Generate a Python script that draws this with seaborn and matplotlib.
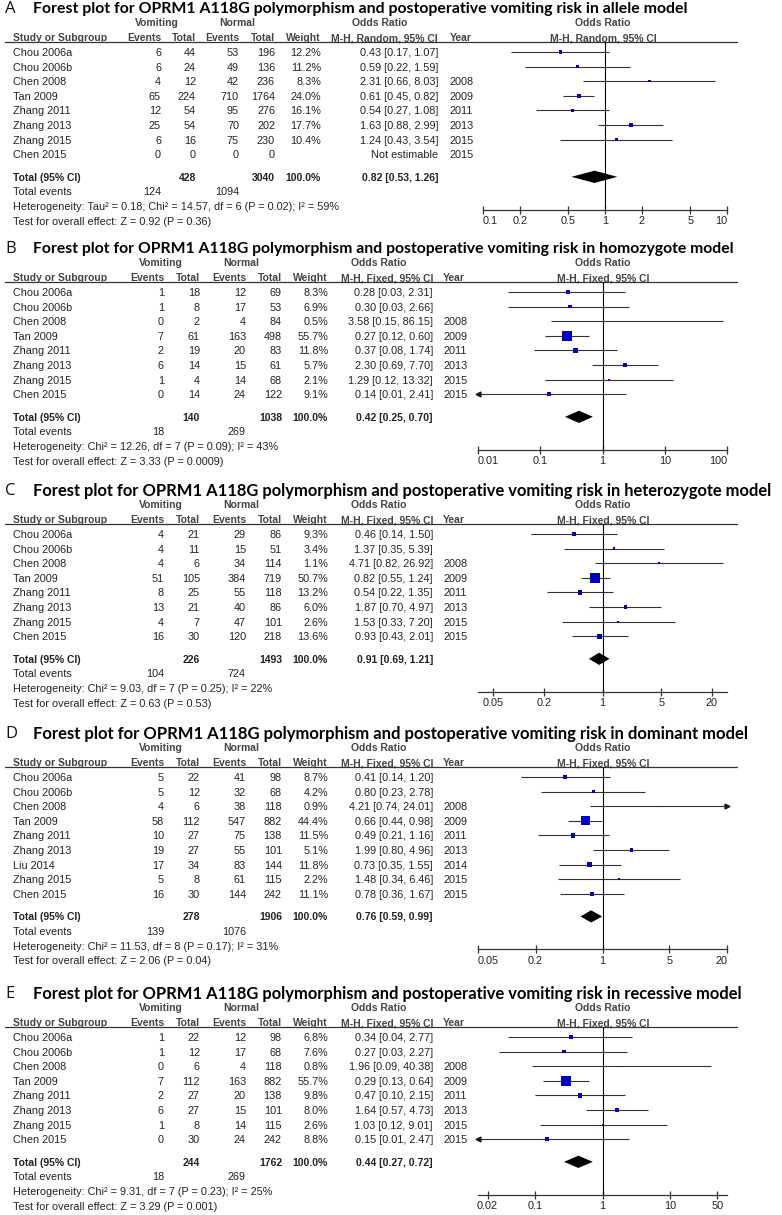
import numpy as np
import pandas as pd
import seaborn as sns
import matplotlib.pyplot as plt
from matplotlib.ticker import FixedLocator, FixedFormatter, NullLocator

sns.set_theme(style="white")
plt.rcParams['font.family'] = ['Liberation Sans', 'DejaVu Sans']

# ---------------- data ----------------
studies = ["Chou 2006a", "Chou 2006b", "Chen 2008", "Tan 2009", "Zhang 2011",
           "Zhang 2013", "Zhang 2015", "Chen 2015"]
years = ["", "", "2008", "2009", "2011", "2013", "2015", "2015"]
studies_d = ["Chou 2006a", "Chou 2006b", "Chen 2008", "Tan 2009", "Zhang 2011",
             "Zhang 2013", "Liu 2014", "Zhang 2015", "Chen 2015"]
years_d = ["", "", "2008", "2009", "2011", "2013", "2014", "2015", "2015"]

# A: allele model (random)
a_vom_ev = [6, 6, 4, 65, 12, 25, 6, 0]
a_vom_tot = [44, 24, 12, 224, 54, 54, 16, 0]
a_nor_ev = [53, 49, 42, 710, 95, 70, 75, 0]
a_nor_tot = [196, 136, 236, 1764, 276, 202, 230, 0]
a_weight = [12.2, 11.2, 8.3, 24.0, 16.1, 17.7, 10.4, np.nan]
a_or = [0.43, 0.59, 2.31, 0.61, 0.54, 1.63, 1.24, np.nan]
a_lo = [0.17, 0.22, 0.66, 0.45, 0.27, 0.88, 0.43, np.nan]
a_hi = [1.07, 1.59, 8.03, 0.82, 1.08, 2.99, 3.54, np.nan]
a_total = [428, 3040, 0.82, 0.53, 1.26]
a_events = [124, 1094]

# B: homozygote model
b_vom_ev = [1, 1, 0, 7, 2, 6, 1, 0]
b_vom_tot = [18, 8, 2, 61, 19, 14, 4, 14]
b_nor_ev = [12, 17, 4, 163, 20, 15, 14, 24]
b_nor_tot = [69, 53, 84, 498, 83, 61, 68, 122]
b_weight = [8.3, 6.9, 0.5, 55.7, 11.8, 5.7, 2.1, 9.1]
b_or = [0.28, 0.30, 3.58, 0.27, 0.37, 2.30, 1.29, 0.14]
b_lo = [0.03, 0.03, 0.15, 0.12, 0.08, 0.69, 0.12, 0.01]
b_hi = [2.31, 2.66, 86.15, 0.60, 1.74, 7.70, 13.32, 2.41]
b_total = [140, 1038, 0.42, 0.25, 0.70]
b_events = [18, 269]

# C: heterozygote model
c_vom_ev = [4, 4, 4, 51, 8, 13, 4, 16]
c_vom_tot = [21, 11, 6, 105, 25, 21, 7, 30]
c_nor_ev = [29, 15, 34, 384, 55, 40, 47, 120]
c_nor_tot = [86, 51, 114, 719, 118, 86, 101, 218]
c_weight = [9.3, 3.4, 1.1, 50.7, 13.2, 6.0, 2.6, 13.6]
c_or = [0.46, 1.37, 4.71, 0.82, 0.54, 1.87, 1.53, 0.93]
c_lo = [0.14, 0.35, 0.82, 0.55, 0.22, 0.70, 0.33, 0.43]
c_hi = [1.50, 5.39, 26.92, 1.24, 1.35, 4.97, 7.20, 2.01]
c_total = [226, 1493, 0.91, 0.69, 1.21]
c_events = [104, 724]

# D: dominant model
d_vom_ev = [5, 5, 4, 58, 10, 19, 17, 5, 16]
d_vom_tot = [22, 12, 6, 112, 27, 27, 34, 8, 30]
d_nor_ev = [41, 32, 38, 547, 75, 55, 83, 61, 144]
d_nor_tot = [98, 68, 118, 882, 138, 101, 144, 115, 242]
d_weight = [8.7, 4.2, 0.9, 44.4, 11.5, 5.1, 11.8, 2.2, 11.1]
d_or = [0.41, 0.80, 4.21, 0.66, 0.49, 1.99, 0.73, 1.48, 0.78]
d_lo = [0.14, 0.23, 0.74, 0.44, 0.21, 0.80, 0.35, 0.34, 0.36]
d_hi = [1.20, 2.78, 24.01, 0.98, 1.16, 4.96, 1.55, 6.46, 1.67]
d_total = [278, 1906, 0.76, 0.59, 0.99]
d_events = [139, 1076]

# E: recessive model
e_vom_ev = [1, 1, 0, 7, 2, 6, 1, 0]
e_vom_tot = [22, 12, 6, 112, 27, 27, 8, 30]
e_nor_ev = [12, 17, 4, 163, 20, 15, 14, 24]
e_nor_tot = [98, 68, 118, 882, 138, 101, 115, 242]
e_weight = [6.8, 7.6, 0.8, 55.7, 9.8, 8.0, 2.6, 8.8]
e_or = [0.34, 0.27, 1.96, 0.29, 0.47, 1.64, 1.03, 0.15]
e_lo = [0.04, 0.03, 0.09, 0.13, 0.10, 0.57, 0.12, 0.01]
e_hi = [2.77, 2.27, 40.38, 0.64, 2.15, 4.73, 9.01, 2.47]
e_total = [244, 1762, 0.44, 0.27, 0.72]
e_events = [18, 269]

titles = ["allele", "homozygote", "heterozygote", "dominant", "recessive"]
letters = ["A", "B", "C", "D", "E"]
methods = ["M-H, Random, 95% CI"] + ["M-H, Fixed, 95% CI"] * 4
het_text = [
    "Heterogeneity: Tau\u00b2 = 0.18; Chi\u00b2 = 14.57, df = 6 (P = 0.02); I\u00b2 = 59%",
    "Heterogeneity: Chi\u00b2 = 12.26, df = 7 (P = 0.09); I\u00b2 = 43%",
    "Heterogeneity: Chi\u00b2 = 9.03, df = 7 (P = 0.25); I\u00b2 = 22%",
    "Heterogeneity: Chi\u00b2 = 11.53, df = 8 (P = 0.17); I\u00b2 = 31%",
    "Heterogeneity: Chi\u00b2 = 9.31, df = 7 (P = 0.23); I\u00b2 = 25%",
]
test_text = [
    "Test for overall effect: Z = 0.92 (P = 0.36)",
    "Test for overall effect: Z = 3.33 (P = 0.0009)",
    "Test for overall effect: Z = 0.63 (P = 0.53)",
    "Test for overall effect: Z = 2.06 (P = 0.04)",
    "Test for overall effect: Z = 3.29 (P = 0.001)",
]
tick_vals = [[0.1, 0.2, 0.5, 1, 2, 5, 10], [0.01, 0.1, 1, 10, 100],
             [0.05, 0.2, 1, 5, 20], [0.05, 0.2, 1, 5, 20], [0.02, 0.1, 1, 10, 50]]
tick_labels = [["0.1", "0.2", "0.5", "1", "2", "5", "10"],
               ["0.01", "0.1", "1", "10", "100"],
               ["0.05", "0.2", "1", "5", "20"],
               ["0.05", "0.2", "1", "5", "20"],
               ["0.02", "0.1", "1", "10", "50"]]

panels = [
    dict(st=studies, yr=years, ve=a_vom_ev, vt=a_vom_tot, ne=a_nor_ev, nt=a_nor_tot,
         w=a_weight, orr=a_or, lo=a_lo, hi=a_hi, tot=a_total, ev=a_events),
    dict(st=studies, yr=years, ve=b_vom_ev, vt=b_vom_tot, ne=b_nor_ev, nt=b_nor_tot,
         w=b_weight, orr=b_or, lo=b_lo, hi=b_hi, tot=b_total, ev=b_events),
    dict(st=studies, yr=years, ve=c_vom_ev, vt=c_vom_tot, ne=c_nor_ev, nt=c_nor_tot,
         w=c_weight, orr=c_or, lo=c_lo, hi=c_hi, tot=c_total, ev=c_events),
    dict(st=studies_d, yr=years_d, ve=d_vom_ev, vt=d_vom_tot, ne=d_nor_ev, nt=d_nor_tot,
         w=d_weight, orr=d_or, lo=d_lo, hi=d_hi, tot=d_total, ev=d_events),
    dict(st=studies, yr=years, ve=e_vom_ev, vt=e_vom_tot, ne=e_nor_ev, nt=e_nor_tot,
         w=e_weight, orr=e_or, lo=e_lo, hi=e_hi, tot=e_total, ev=e_events),
]

# ---------------- layout ----------------
W, H = 782, 1215
PITCH = 14.6
row0_px = [52, 292, 534, 777, 1037]
xlims = [(0.1, 10), (0.01, 100), (10 ** -1.48, 10 ** 1.48), (0.05, 20),
         (10 ** -1.84, 10 ** 1.84)]
forest_left = [483, 478, 478, 478, 478]
box_scale = [0.42, 0.95, 0.95, 0.95, 0.95]
title_size = [11.4, 11.3, 11.9, 12.0, 11.9]
# column positions (px): vom ev, vom tot, nor ev, nor tot, weight, OR, year,
# then header centres: Vomiting, Normal, Odds Ratio
cols_a = [161, 196, 239, 275, 321, 438, 450, 157, 237, 380]
cols_b = [164, 200, 246, 282, 328, 433, 443, 161, 241, 379]

BLUE = "#0000c0"
TXT = "#222222"
HDR = "#444444"
FS = 7.8
FSB = 7.5


def box(x0, x1, ytop, ybot):
    return [x0 / W, 1 - ybot / H, (x1 - x0) / W, (ybot - ytop) / H]


fig = plt.figure(figsize=(W / 100, H / 100), dpi=100)

for k, p in enumerate(panels):
    n = len(p["st"])
    r0 = row0_px[k]
    c = cols_a if k == 0 else cols_b
    top_r, bot_r = -3.7, n + 4.0
    tab = fig.add_axes(box(0, W, r0 + top_r * PITCH, r0 + bot_r * PITCH))
    tab.set_xlim(0, W)
    tab.set_ylim(bot_r, top_r)
    tab.axis("off")

    def put(x, r, s, ha="left", bold=False, color=TXT):
        tab.text(x, r, s, ha=ha, va="center_baseline", fontsize=FSB if bold else FS,
                 fontweight="bold" if bold else "normal", color=color)

    # title
    tab.text(5, -3.05, letters[k], ha="left", va="center_baseline", fontsize=12,
             family=["Open Sans", "DejaVu Sans"], color="#111")
    tab.text(33, -3.05,
             "Forest plot for OPRM1 A118G polymorphism and postoperative vomiting risk in "
             + titles[k] + " model",
             ha="left", va="center_baseline", fontsize=title_size[k], fontweight="bold",
             family=["Lato", "DejaVu Sans"], color="black")

    # headers
    put(c[7], -2.05, "Vomiting", ha="center", bold=True, color=HDR)
    put(c[8], -2.05, "Normal", ha="center", bold=True, color=HDR)
    put(c[9], -2.05, "Odds Ratio", ha="center", bold=True, color=HDR)
    put(603, -2.05, "Odds Ratio", ha="center", bold=True, color=HDR)
    put(13, -1.0, "Study or Subgroup", bold=True, color=HDR)
    for x, s in zip(c[:5], ["Events", "Total", "Events", "Total", "Weight"]):
        put(x, -1.0, s, ha="right", bold=True, color=HDR)
    put(c[5], -1.0, methods[k], ha="right", bold=True, color=HDR)
    put(c[6], -1.0, "Year", bold=True, color=HDR)
    put(603, -1.0, methods[k], ha="center", bold=True, color=HDR)
    tab.plot([5, 737], [-0.68, -0.68], color="#333", lw=0.9)

    # study rows
    for i in range(n):
        put(13, i, p["st"][i])
        put(c[0], i, str(p["ve"][i]), ha="right")
        put(c[1], i, str(p["vt"][i]), ha="right")
        put(c[2], i, str(p["ne"][i]), ha="right")
        put(c[3], i, str(p["nt"][i]), ha="right")
        if np.isnan(p["orr"][i]):
            put(c[5], i, "Not estimable", ha="right")
        else:
            put(c[4], i, f"{p['w'][i]:.1f}%", ha="right")
            put(c[5], i, f"{p['orr'][i]:.2f} [{p['lo'][i]:.2f}, {p['hi'][i]:.2f}]", ha="right")
        put(c[6], i, p["yr"][i])

    tr = n + 0.55
    t = p["tot"]
    put(13, tr, "Total (95% CI)", bold=True)
    put(c[1], tr, str(t[0]), ha="right", bold=True)
    put(c[3], tr, str(t[1]), ha="right", bold=True)
    put(c[4], tr, "100.0%", ha="right", bold=True)
    put(c[5], tr, f"{t[2]:.2f} [{t[3]:.2f}, {t[4]:.2f}]", ha="right", bold=True)
    put(13, tr + 1, "Total events")
    put(c[0], tr + 1, str(p["ev"][0]), ha="right")
    put(c[2], tr + 1, str(p["ev"][1]), ha="right")
    put(13, tr + 2, het_text[k])
    put(13, tr + 3, test_text[k])

    # forest
    ax_bot = n + 2.8
    fax = fig.add_axes(box(forest_left[k], 727, r0 - 0.68 * PITCH, r0 + ax_bot * PITCH))
    fax.set_xscale("log")
    df = pd.DataFrame({"OR": p["orr"], "lo": p["lo"], "hi": p["hi"],
                       "w": p["w"], "row": np.arange(n)}).dropna()
    x0, x1 = xlims[k]
    lo_c = df["lo"].clip(lower=x0)
    hi_c = df["hi"].clip(upper=x1)
    fax.hlines(df["row"], lo_c, hi_c, color="#333", lw=0.8)
    left_arr = df[df["lo"] <= x0]
    right_arr = df[df["hi"] >= x1]
    fax.plot(np.full(len(left_arr), x0), left_arr["row"], "<", color="k", ms=3.5, clip_on=False)
    fax.plot(np.full(len(right_arr), x1), right_arr["row"], ">", color="k", ms=3.5, clip_on=False)
    sns.scatterplot(data=df, x="OR", y="row", size="w", sizes=(0, box_scale[k] * 60),
                    size_norm=(0, 60), marker="s", color=BLUE, linewidth=0,
                    legend=False, ax=fax, zorder=3)
    fax.fill([t[3], t[2], t[4], t[2]], [tr, tr - 0.42, tr, tr + 0.42], color="black", lw=0)
    fax.axvline(1, color="black", lw=0.8)
    fax.set_xlim(x0, x1)
    fax.set_ylim(ax_bot, -0.68)
    fax.set(xlabel="", ylabel="")
    for s in ["top", "left", "right"]:
        fax.spines[s].set_visible(False)
    fax.spines["bottom"].set_color("#333")
    fax.spines["bottom"].set_linewidth(0.9)
    fax.set_yticks([])
    fax.patch.set_alpha(0)
    fax.xaxis.set_major_locator(FixedLocator(tick_vals[k]))
    fax.xaxis.set_major_formatter(FixedFormatter(tick_labels[k]))
    fax.xaxis.set_minor_locator(NullLocator())
    fax.tick_params(axis="x", bottom=True, direction="inout", length=6, width=0.9,
                    color="#333", labelsize=FS, labelcolor=TXT, pad=1.5)
    if tick_vals[k][0] <= x0 * 1.001:
        fax.get_xticklabels()[0].set_ha("left")
    if tick_vals[k][-1] >= x1 * 0.999:
        fax.get_xticklabels()[-1].set_ha("right")

fig.savefig("out.png", dpi=100)
